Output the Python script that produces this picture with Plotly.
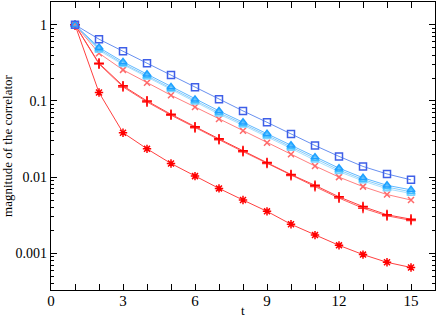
import plotly.graph_objects as go

t = list(range(1, 16))
blue_sq = [1, 0.648, 0.45, 0.313, 0.22, 0.151, 0.105, 0.074, 0.0525, 0.0367, 0.026, 0.0187, 0.0138, 0.0110, 0.0092]
cyan1 = [1, 0.503, 0.326, 0.224, 0.153, 0.105, 0.074, 0.0525, 0.0372, 0.0262, 0.0183, 0.0131, 0.0098, 0.0078, 0.0068]
cyan2 = [1, 0.48, 0.31, 0.213, 0.146, 0.100, 0.070, 0.050, 0.0354, 0.0249, 0.0174, 0.0124, 0.0093, 0.0074, 0.0064]
cyan3 = [1, 0.46, 0.30, 0.205, 0.140, 0.096, 0.067, 0.048, 0.034, 0.0238, 0.0166, 0.0118, 0.0089, 0.0070, 0.0061]
salmon = [1, 0.424, 0.256, 0.174, 0.119, 0.0834, 0.058, 0.0407, 0.0283, 0.020, 0.0140, 0.0100, 0.0075, 0.0059, 0.0050]
red_plus1 = [1, 0.313, 0.158, 0.100, 0.0668, 0.0457, 0.0318, 0.0222, 0.0155, 0.0108, 0.0078, 0.0055, 0.0041, 0.0032, 0.0028]
red_plus2 = [1, 0.305, 0.153, 0.097, 0.065, 0.0445, 0.031, 0.0216, 0.0151, 0.0105, 0.0075, 0.0053, 0.0039, 0.0031, 0.0027]
red_star = [1, 0.129, 0.0383, 0.0235, 0.0151, 0.0103, 0.0071, 0.0050, 0.00355, 0.0024, 0.00173, 0.00127, 0.00096, 0.00076, 0.00065]

y_major = [0.001, 0.01, 0.1, 1]
y_major_text = ["0.001", "0.01", "0.1", "1"]
y_minor = [m * 10.0 ** e for e in range(-4, 1) for m in range(2, 10)]

series = [
    (red_star, "#ff0000", "#ff4040", "asterisk-open", 7),
    (red_plus2, "#ff3030", "#ff6060", "cross-thin-open", 7),
    (red_plus1, "#ff0000", "#ff4040", "cross-thin-open", 7),
    (salmon, "#ff6a6a", "#ff8080", "x-thin-open", 6),
    (cyan3, "#7fd4ff", "#a8e0ff", "triangle-up-open", 7),
    (cyan2, "#40bfff", "#87cefa", "triangle-up-open", 7),
    (cyan1, "#1ea0ff", "#60b8ff", "triangle-up-open", 7),
    (blue_sq, "#3f5fe8", "#6890f0", "square-open", 7),
]

fig = go.Figure()
for ys, mc, lc, sym, sz in series:
    fig.add_trace(go.Scatter(
        x=t, y=ys, mode="lines+markers",
        line=dict(color=lc, width=1),
        marker=dict(symbol=sym, size=sz, color=mc, line=dict(color=mc, width=1.5)),
        showlegend=False, hoverinfo="skip",
    ))

fig.add_trace(go.Scatter(x=[None], y=[None], yaxis="y2", showlegend=False))

font = "Liberation Serif, Times New Roman, Times, serif"
fig.update_layout(
    width=436, height=317,
    margin=dict(l=51, r=1, t=2, b=27),
    plot_bgcolor="white", paper_bgcolor="white",
    font=dict(family=font, size=14, color="black"),
    xaxis=dict(
        range=[0, 16], tickmode="linear", tick0=0, dtick=3,
        ticks="inside", ticklen=6, tickwidth=1, tickcolor="black",
        minor=dict(ticks="inside", ticklen=3, dtick=1, tick0=0, tickcolor="black"),
        showline=True, linecolor="black", linewidth=1.2, mirror="allticks",
        showgrid=False, zeroline=False,
        tickfont=dict(family=font, size=15),
        ticklabelstandoff=-3,
    ),
    yaxis=dict(
        type="log", range=[-3.483, 0.30],
        tickmode="array", tickvals=y_major, ticktext=y_major_text,
        ticks="inside", ticklen=6, tickwidth=1, tickcolor="black",
        showline=True, linecolor="black", linewidth=1.2, mirror="allticks",
        showgrid=False, zeroline=False,
        title=dict(text="magnitude of the correlator", standoff=3, font=dict(family=font, size=13)),
        tickfont=dict(family=font, size=14),
    ),
    yaxis2=dict(
        type="log", range=[-3.483, 0.30], overlaying="y",
        tickmode="array", tickvals=y_minor, showticklabels=False,
        ticks="inside", ticklen=3, tickcolor="black",
        showline=True, linecolor="black", linewidth=1.2,
        mirror="allticks", showgrid=False, zeroline=False,
    ),
    annotations=[dict(
        text="t", xref="x", x=8, yref="paper", y=0, yanchor="top",
        yshift=-11, showarrow=False, font=dict(family=font, size=13),
    )],
)

fig.write_html("out.html", config={"displayModeBar": False},
               post_script="document.body.style.margin='0';")
